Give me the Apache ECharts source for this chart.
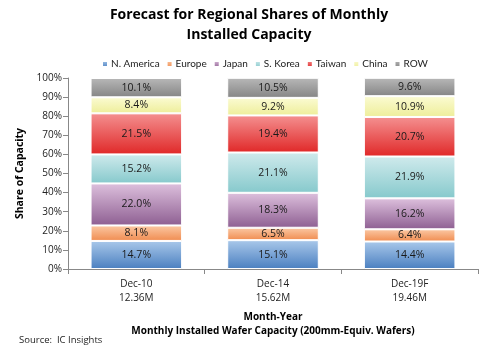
<!DOCTYPE html>
<html>
<head>
<meta charset="utf-8">
<script src="https://cdn.jsdelivr.net/npm/echarts@6/dist/echarts.min.js"></script>
<style>html,body{margin:0;padding:0;background:#fff}#c{width:500px;height:346px}</style>
</head>
<body>
<div id="c"></div>
<script>
var categories = ['Dec-10', 'Dec-14', 'Dec-19F'];
var capacity = ['12.36M', '15.62M', '19.46M'];
var seriesNames = ['N. America', 'Europe', 'Japan', 'S. Korea', 'Taiwan', 'China', 'ROW'];
var nAmerica = [14.7, 15.1, 14.4];
var europe = [8.1, 6.5, 6.4];
var japan = [22.0, 18.3, 16.2];
var sKorea = [15.2, 21.1, 21.9];
var taiwan = [21.5, 19.4, 20.7];
var china = [8.4, 9.2, 10.9];
var row = [10.1, 10.5, 9.6];
var yTicks = [0, 10, 20, 30, 40, 50, 60, 70, 80, 90, 100];

var values = [nAmerica, europe, japan, sKorea, taiwan, china, row];
var gradTop = ['#a9c8ea', '#fbc8a4', '#ddc0dd', '#cfeaec', '#f49090', '#fbfbd2', '#b8b8b8'];
var gradBot = ['#4a7fc0', '#f08c50', '#8e5f92', '#86c9cc', '#e02828', '#eeee9a', '#858585'];
var legendColors = ['#5b8fd0', '#f4a070', '#a880aa', '#a8d8dc', '#e84040', '#f5f5b0', '#9a9a9a'];
var FONT = 'Open Sans';

var series = seriesNames.map(function (name, i) {
  return {
    name: name,
    type: 'bar',
    stack: 'total',
    barCategoryGap: '33%',
    data: values[i],
    color: legendColors[i],
    itemStyle: {
      color: {
        type: 'linear', x: 0, y: 0, x2: 0, y2: 1,
        colorStops: [{offset: 0, color: gradTop[i]}, {offset: 1, color: gradBot[i]}]
      },
      borderColor: '#ffffff',
      borderWidth: 1
    },
    label: {
      show: true,
      position: 'inside',
      formatter: function (p) { return p.value.toFixed(1) + '%'; },
      color: '#1a1a1a',
      fontFamily: FONT,
      fontSize: 10.5
    }
  };
});

var chart = echarts.init(document.getElementById('c'), null, {renderer: 'canvas'});
chart.setOption({
  animation: false,
  backgroundColor: '#ffffff',
  title: [{
    text: 'Forecast for Regional Shares of Monthly\nInstalled Capacity',
    left: 244,
    textAlign: 'center',
    top: 0,
    textStyle: {fontFamily: FONT, fontWeight: 'bold', fontSize: 14, color: '#000', lineHeight: 20}
  }, {
    text: 'Source:  IC Insights',
    left: 14,
    top: 330,
    textStyle: {fontFamily: FONT, fontWeight: 'normal', fontSize: 9.5, color: '#222'}
  }],
  legend: {
    top: 54,
    left: 96,
    itemWidth: 6,
    itemHeight: 6,
    itemGap: 6,
    icon: 'rect',
    textStyle: {fontFamily: 'Lato', fontSize: 10, color: '#222', padding: [0, 0, 0, -2]},
    data: seriesNames
  },
  grid: {left: 68, right: 22, top: 78, bottom: 77},
  xAxis: {
    type: 'category',
    data: categories,
    axisLine: {lineStyle: {color: '#888'}},
    axisTick: {show: true, lineStyle: {color: '#888'}},
    axisLabel: {
      fontFamily: FONT, fontSize: 10, color: '#222', lineHeight: 14, margin: 8,
      formatter: function (v, i) { return v + '\n' + capacity[i]; }
    },
    name: 'Month-Year\nMonthly Installed Wafer Capacity (200mm-Equiv. Wafers)',
    nameLocation: 'middle',
    nameGap: 34,
    nameTextStyle: {fontFamily: FONT, fontWeight: 'bold', fontSize: 10, color: '#000', lineHeight: 14}
  },
  yAxis: {
    type: 'value',
    min: 0,
    max: 100,
    interval: 10,
    axisLine: {show: true, lineStyle: {color: '#888'}},
    axisTick: {show: true, lineStyle: {color: '#888'}},
    splitLine: {show: false},
    axisLabel: {
      fontFamily: FONT, fontSize: 10, color: '#222', margin: 6,
      formatter: function (v) { return yTicks.indexOf(v) >= 0 ? v + '%' : ''; }
    },
    name: 'Share of Capacity',
    nameLocation: 'middle',
    nameGap: 34,
    nameRotate: 90,
    nameTextStyle: {fontFamily: FONT, fontWeight: 'bold', fontSize: 10.5, color: '#000'}
  },
  series: series
});
</script>
</body>
</html>
